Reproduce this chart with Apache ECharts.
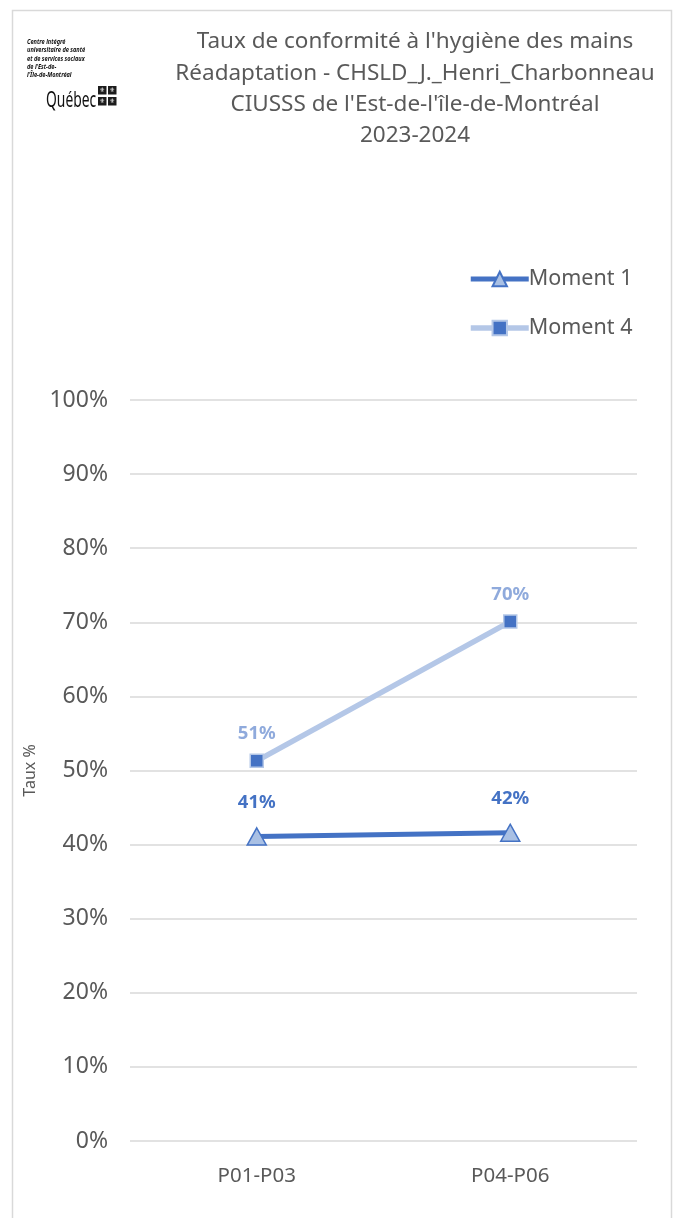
<!DOCTYPE html>
<html>
<head>
<meta charset="utf-8">
<script src="https://cdn.jsdelivr.net/npm/echarts@6/dist/echarts.min.js"></script>
<style>
html,body{margin:0;padding:0;background:#fff;}
#c{width:674px;height:1218px;}
</style>
</head>
<body>
<div id="c"></div>
<script>
const categories = ['P01-P03', 'P04-P06'];
const moment1 = [41.1, 41.6];
const moment4 = [51.3, 70.1];
const yTicks = [0, 10, 20, 30, 40, 50, 60, 70, 80, 90, 100];
const titleLines = [
  "Taux de conformité à l'hygiène des mains",
  "Réadaptation - CHSLD_J._Henri_Charbonneau",
  "CIUSSS de l'Est-de-l'île-de-Montréal",
  "2023-2024"
];
const logoLines = ["Centre intégré", "universitaire de santé", "et de services sociaux", "de l'Est-de-", "l'Île-de-Montréal"];

const FONT = "'Noto Sans', sans-serif";
const chart = echarts.init(document.getElementById('c'), null, {renderer: 'canvas'});

const graphics = [
  {type: 'rect', shape: {x: 12.5, y: 10.5, width: 659, height: 1220}, style: {fill: 'none', stroke: '#D9D9D9', lineWidth: 1.5}, silent: true}
];
titleLines.forEach((t, i) => {
  graphics.push({type: 'text', x: 415, y: 42 + i * 31.3, style: {text: t, fill: '#595959', font: "22.5px " + FONT, align: 'center', verticalAlign: 'middle'}});
});
logoLines.forEach((t, i) => {
  graphics.push({type: 'text', x: 27, y: 42 + i * 8.3, scaleX: 0.75, originX: 0, originY: 0, style: {text: t, fill: '#111', font: "italic bold 7.5px " + FONT, align: 'left', verticalAlign: 'middle'}});
});
graphics.push({type: 'text', x: 46, y: 101, scaleX: 0.63, originX: 0, originY: 0, style: {text: 'Québec', fill: '#111', font: "22px " + FONT, align: 'left', verticalAlign: 'middle'}});
[[98, 86], [108, 86], [98, 97], [108, 97]].forEach(p => {
  graphics.push({type: 'rect', shape: {x: p[0], y: p[1], width: 8.5, height: 8.5}, style: {fill: '#1c1c1c'}});
  graphics.push({type: 'text', x: p[0] + 4.25, y: p[1] + 4.7, style: {text: '⚜', fill: '#fff', font: "6.5px 'DejaVu Sans'", align: 'center', verticalAlign: 'middle'}});
});

chart.setOption({
  animation: false,
  backgroundColor: '#fff',
  textStyle: {fontFamily: FONT},
  graphic: graphics,
  legend: {
    orient: 'vertical',
    left: 463,
    top: 263,
    itemWidth: 58,
    itemHeight: 18,
    itemGap: 27,
    textStyle: {fontSize: 21.5, color: '#595959', fontFamily: FONT, padding: [0, 0, 0, -5]},
    data: [
      {name: 'Moment 1', lineStyle: {width: 5, color: '#4472C4'}},
      {name: 'Moment 4', lineStyle: {width: 5.5, color: '#B4C7E7'}}
    ]
  },
  grid: {left: 130, right: 37, top: 400, bottom: 77, containLabel: false},
  xAxis: {
    type: 'category',
    data: categories,
    boundaryGap: true,
    axisLine: {show: false},
    axisTick: {show: false},
    axisLabel: {fontSize: 20.5, color: '#595959', margin: 25, fontFamily: FONT}
  },
  yAxis: {
    type: 'value',
    min: yTicks[0],
    max: yTicks[yTicks.length - 1],
    interval: 10,
    name: 'Taux %',
    nameLocation: 'middle',
    nameGap: 88,
    nameRotate: 90,
    nameTextStyle: {fontSize: 16, color: '#595959', fontFamily: FONT},
    axisLine: {show: false},
    axisTick: {show: false},
    axisLabel: {fontSize: 23, color: '#595959', margin: 22, formatter: v => v + '%', fontFamily: FONT},
    splitLine: {lineStyle: {color: '#D9D9D9', width: 1.5}}
  },
  series: [
    {
      name: 'Moment 4',
      type: 'line',
      data: moment4,
      z: 2,
      symbol: 'rect',
      symbolSize: 13,
      lineStyle: {color: '#B4C7E7', width: 5.5},
      itemStyle: {color: '#4472C4', borderColor: '#B4C7E7', borderWidth: 1.5},
      label: {show: true, position: 'top', distance: 10, formatter: p => Math.round(p.value) + '%', fontSize: 18.5, fontWeight: 'bold', color: '#8FAADC', fontFamily: FONT}
    },
    {
      name: 'Moment 1',
      type: 'line',
      data: moment1,
      z: 3,
      symbol: 'triangle',
      symbolSize: [19, 17],
      lineStyle: {color: '#4472C4', width: 5},
      itemStyle: {color: '#A9C0E4', borderColor: '#4472C4', borderWidth: 1.5},
      label: {show: true, position: 'top', distance: 15, formatter: p => Math.round(p.value) + '%', fontSize: 18.5, fontWeight: 'bold', color: '#4472C4', fontFamily: FONT}
    }
  ]
});
</script>
</body>
</html>
